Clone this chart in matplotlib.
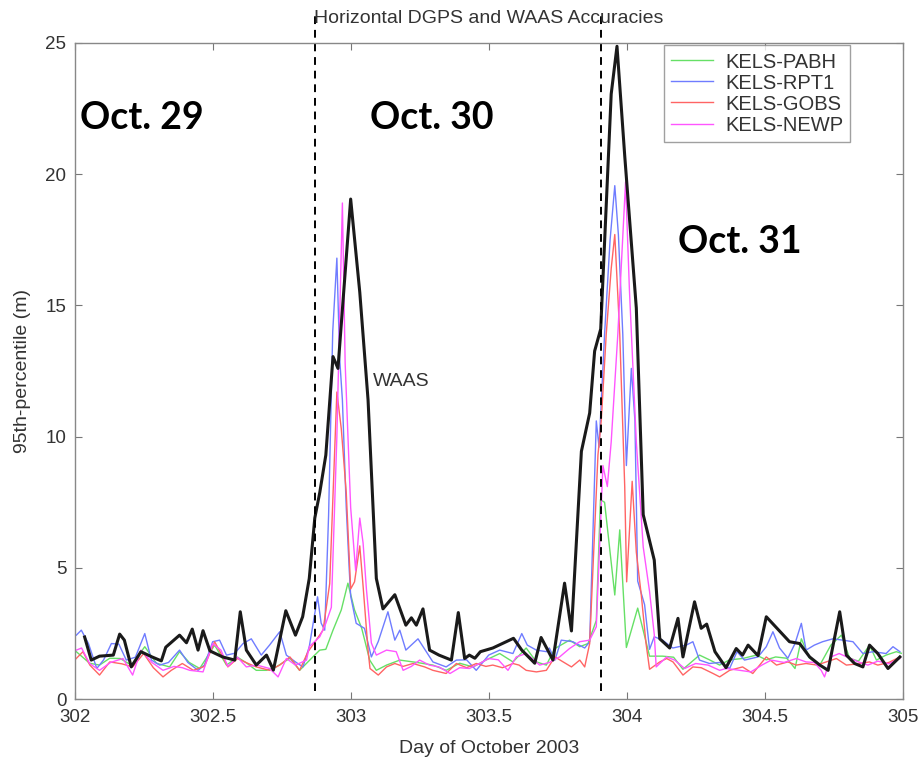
import matplotlib
matplotlib.use("Agg")
import matplotlib.pyplot as plt

# WAAS (black)
waas_x = [302.036, 302.06, 302.09, 302.14, 302.163, 302.18, 302.205, 302.24, 302.278, 302.314,
          302.33, 302.38, 302.405, 302.426, 302.447, 302.465, 302.49, 302.536, 302.58, 302.60,
          302.622, 302.658, 302.695, 302.72, 302.765, 302.80, 302.826, 302.85, 302.87, 302.888,
          302.91, 302.936, 302.954, 303.0, 303.033, 303.063, 303.093, 303.117, 303.16, 303.20,
          303.22, 303.238, 303.262, 303.286, 303.32, 303.365, 303.39, 303.413, 303.43, 303.45,
          303.47, 303.515, 303.59, 303.62, 303.667, 303.69, 303.733, 303.775, 303.80, 303.836,
          303.866, 303.884, 303.906, 303.944, 303.965, 303.993, 304.035, 304.06, 304.10, 304.12,
          304.156, 304.186, 304.204, 304.246, 304.27, 304.29, 304.32, 304.36, 304.397, 304.42,
          304.44, 304.476, 304.506, 304.59, 304.627, 304.663, 304.70, 304.73, 304.772, 304.796,
          304.826, 304.856, 304.88, 304.91, 304.947, 304.99]
waas_y = [2.37, 1.49, 1.64, 1.68, 2.48, 2.25, 1.23, 1.81, 1.62, 1.46,
          1.98, 2.44, 2.15, 2.67, 1.87, 2.61, 1.84, 1.61, 1.49, 3.33,
          1.87, 1.30, 1.68, 1.11, 3.37, 2.44, 3.14, 4.6, 6.9, 7.87,
          9.3, 13.05, 12.6, 19.05, 15.5, 11.4, 4.6, 3.44, 3.98, 2.82,
          3.1, 2.82, 3.44, 1.87, 1.68, 1.49, 3.3, 1.55, 1.68, 1.56,
          1.81, 1.95, 2.32, 1.87, 1.37, 2.35, 1.49, 4.42, 2.6, 9.44,
          10.9, 13.26, 14.1, 23.05, 24.87, 20.7, 14.9, 7.03, 5.3, 2.3,
          1.95, 3.08, 1.61, 3.71, 2.7, 2.86, 1.81, 1.2, 1.93, 1.68,
          2.06, 1.66, 3.14, 2.19, 2.12, 1.61, 1.3, 1.1, 3.33, 1.68,
          1.36, 1.23, 2.06, 1.74, 1.17, 1.61]

# KELS-PABH (green)
pabh_x = [302.006, 302.054, 302.09, 302.127, 302.165, 302.205, 302.254, 302.296, 302.344, 302.38,
          302.415, 302.453, 302.507, 302.55, 302.59, 302.62, 302.658, 302.695, 302.73, 302.78,
          302.815, 302.863, 302.888, 302.91, 302.936, 302.966, 302.99, 303.014, 303.04, 303.069,
          303.093, 303.13, 303.178, 303.24, 303.298, 303.346, 303.395, 303.443, 303.49, 303.54,
          303.588, 303.636, 303.673, 303.709, 303.74, 303.793, 303.83, 303.86, 303.89, 303.905,
          303.92, 303.957, 303.975, 303.999, 304.04, 304.083, 304.13, 304.17, 304.204, 304.264,
          304.3, 304.337, 304.373, 304.42, 304.47, 304.506, 304.54, 304.58, 304.61, 304.633,
          304.663, 304.70, 304.74, 304.778, 304.808, 304.84, 304.88, 304.905, 304.94, 304.977,
          304.995]
pabh_y = [1.81, 1.37, 1.3, 1.56, 1.55, 1.3, 2.0, 1.37, 1.23, 1.81,
          1.4, 1.17, 2.06, 1.3, 1.6, 1.4, 1.1, 1.1, 1.23, 1.56,
          1.1, 1.61, 1.87, 1.9, 2.63, 3.4, 4.42, 3.4, 2.7, 1.49,
          1.1, 1.3, 1.49, 1.4, 1.3, 1.1, 1.37, 1.23, 1.49, 1.74,
          1.42, 1.95, 1.42, 1.3, 1.93, 2.25, 2.0, 2.12, 3.0, 7.6,
          7.5, 3.97, 6.45, 1.97, 3.47, 1.64, 1.64, 1.6, 1.14, 1.68,
          1.5, 1.3, 1.5, 1.55, 1.68, 1.5, 1.61, 1.56, 1.17, 2.3,
          1.56, 1.3, 2.06, 2.44, 1.56, 1.45, 2.06, 1.49, 1.68, 1.81,
          1.75]

# KELS-RPT1 (blue)
rpt1_x = [302.006, 302.024, 302.05, 302.08, 302.105, 302.133, 302.16, 302.187, 302.22, 302.254,
          302.278, 302.308, 302.34, 302.38, 302.41, 302.447, 302.47, 302.50, 302.525, 302.55,
          302.58, 302.61, 302.64, 302.676, 302.706, 302.743, 302.767, 302.80, 302.827, 302.85,
          302.88, 302.893, 302.906, 302.92, 302.935, 302.95, 302.96, 302.97, 302.984, 302.995,
          303.0, 303.02, 303.05, 303.075, 303.1, 303.135, 303.16, 303.178, 303.20, 303.244,
          303.274, 303.298, 303.346, 303.383, 303.42, 303.455, 303.50, 303.54, 303.588, 303.62,
          303.64, 303.673, 303.71, 303.72, 303.74, 303.763, 303.805, 303.848, 303.866, 303.89,
          303.90, 303.92, 303.94, 303.957, 303.97, 303.986, 303.999, 304.017, 304.03, 304.04,
          304.065, 304.083, 304.10, 304.13, 304.167, 304.216, 304.24, 304.264, 304.30, 304.337,
          304.373, 304.40, 304.427, 304.476, 304.506, 304.53, 304.554, 304.584, 304.61, 304.633,
          304.65, 304.68, 304.71, 304.747, 304.783, 304.82, 304.856, 304.893, 304.94, 304.965,
          304.99]
rpt1_y = [2.44, 2.63, 2.12, 1.17, 1.5, 2.12, 2.1, 1.49, 1.6, 2.5,
          1.49, 1.3, 1.4, 1.87, 1.4, 1.1, 1.3, 2.19, 2.25, 1.68,
          1.75, 2.12, 2.3, 1.68, 2.06, 2.57, 1.68, 1.42, 1.23, 2.0,
          3.9, 2.9, 2.63, 7.0, 14.0, 16.8, 13.0, 11.4, 7.3, 4.9,
          3.93, 2.89, 2.7, 1.61, 2.2, 3.33, 2.25, 2.63, 1.87, 2.3,
          1.81, 1.42, 1.23, 1.49, 1.5, 1.1, 1.68, 1.87, 1.74, 2.5,
          2.06, 1.87, 1.81, 1.95, 1.49, 2.25, 2.19, 1.95, 2.19, 10.6,
          9.6, 13.9, 17.5, 19.56, 17.7, 13.9, 8.9, 12.6, 10.6, 4.5,
          3.6, 1.9, 2.38, 2.25, 1.95, 2.06, 2.19, 1.49, 1.36, 1.4,
          1.17, 1.81, 1.49, 1.61, 2.0, 2.57, 1.95, 1.56, 2.12, 2.89,
          1.87, 2.06, 2.19, 2.3, 2.25, 2.19, 1.74, 1.81, 1.74, 2.0,
          1.81]

# KELS-GOBS (red)
gobs_x = [302.0, 302.03, 302.055, 302.09, 302.127, 302.17, 302.21, 302.25, 302.285, 302.32,
          302.35, 302.39, 302.43, 302.47, 302.507, 302.537, 302.555, 302.59, 302.62, 302.658,
          302.706, 302.743, 302.78, 302.815, 302.845, 302.875, 302.9, 302.924, 302.95, 302.966,
          302.984, 303.0, 303.014, 303.033, 303.045, 303.063, 303.07, 303.1, 303.13, 303.16,
          303.19, 303.226, 303.268, 303.298, 303.346, 303.383, 303.42, 303.455, 303.49, 303.515,
          303.55, 303.588, 303.61, 303.636, 303.673, 303.709, 303.74, 303.77, 303.80, 303.83,
          303.848, 303.866, 303.896, 303.908, 303.926, 303.944, 303.957, 303.975, 303.993, 304.0,
          304.02, 304.035, 304.053, 304.07, 304.083, 304.12, 304.145, 304.168, 304.204, 304.24,
          304.27, 304.313, 304.337, 304.373, 304.42, 304.457, 304.506, 304.543, 304.584, 304.615,
          304.65, 304.69, 304.723, 304.76, 304.796, 304.84, 304.88, 304.91, 304.95, 304.99]
gobs_y = [1.49, 1.81, 1.3, 0.92, 1.42, 1.35, 1.23, 1.74, 1.2, 0.85,
          1.1, 1.36, 1.1, 1.25, 2.19, 1.61, 1.23, 1.55, 1.4, 1.23,
          1.1, 1.3, 1.61, 1.1, 1.8, 2.25, 2.63, 4.4, 11.7, 10.3,
          7.87, 4.2, 4.47, 5.84, 4.31, 1.87, 1.17, 0.92, 1.23, 1.36,
          1.25, 1.36, 1.23, 1.1, 0.98, 1.36, 1.2, 1.36, 1.25, 1.3,
          1.2, 1.36, 1.3, 1.1, 1.04, 1.1, 1.61, 1.42, 1.23, 1.49,
          1.23, 2.12, 9.3, 10.6, 13.9, 16.4, 17.7, 13.9, 8.1, 4.47,
          8.3, 5.6, 3.97, 2.14, 1.14, 1.42, 1.55, 1.42, 0.92, 1.23,
          1.2, 0.98, 0.85, 1.1, 1.23, 0.98, 1.61, 1.3, 1.42, 1.3,
          1.36, 1.3, 1.42, 1.55, 1.3, 1.35, 1.42, 1.3, 1.4, 1.61]

# KELS-NEWP (magenta)
newp_x = [302.006, 302.025, 302.054, 302.09, 302.13, 302.175, 302.21, 302.24, 302.28, 302.32,
          302.36, 302.39, 302.417, 302.465, 302.50, 302.53, 302.555, 302.59, 302.622, 302.66,
          302.706, 302.737, 302.767, 302.80, 302.84, 302.85, 302.888, 302.91, 302.93, 302.95,
          302.97, 302.98, 303.0, 303.018, 303.033, 303.045, 303.057, 303.075, 303.093, 303.13,
          303.165, 303.19, 303.22, 303.25, 303.285, 303.32, 303.36, 303.395, 303.43, 303.465,
          303.50, 303.535, 303.57, 303.6, 303.636, 303.685, 303.72, 303.757, 303.793, 303.83,
          303.866, 303.89, 303.914, 303.93, 303.944, 303.968, 303.996, 304.01, 304.035, 304.06,
          304.083, 304.1, 304.107, 304.145, 304.174, 304.21, 304.25, 304.295, 304.337, 304.36,
          304.41, 304.45, 304.49, 304.524, 304.57, 304.615, 304.65, 304.68, 304.705, 304.717,
          304.74, 304.77, 304.80, 304.84, 304.874, 304.91, 304.95, 304.99]
newp_y = [1.87, 1.95, 1.36, 1.1, 1.4, 1.55, 0.92, 1.87, 1.4, 1.1,
          1.25, 1.2, 1.1, 1.04, 2.12, 1.87, 1.25, 1.6, 1.23, 1.3,
          1.17, 0.85, 1.55, 1.3, 1.49, 2.0, 2.38, 2.89, 3.5, 10.0,
          18.9, 12.8, 7.3, 4.9, 6.9, 5.95, 4.2, 2.14, 1.68, 1.87,
          1.81, 1.1, 1.25, 1.49, 1.3, 1.23, 0.98, 1.2, 1.17, 1.35,
          1.55, 1.5, 1.1, 1.61, 1.74, 1.3, 1.4, 1.61, 1.93, 2.19,
          2.25, 2.76, 8.9, 8.1, 9.8, 13.9, 19.7, 15.6, 9.8, 5.8,
          4.1, 2.47, 1.23, 1.61, 1.49, 1.17, 1.36, 1.3, 1.1, 1.17,
          1.1, 1.04, 1.3, 1.49, 1.4, 1.55, 1.42, 1.4, 1.1, 0.85,
          1.61, 1.74, 1.6, 1.42, 1.3, 1.45, 1.35, 1.55]

day_lines = [302.87, 303.906]
day_labels = ["Oct. 29", "Oct. 30", "Oct. 31"]
day_label_pos = [(302.02, 21.7), (303.07, 21.7), (304.185, 17.0)]

plt.rcParams['font.family'] = ['Liberation Sans', 'DejaVu Sans']

fig = plt.figure(figsize=(9.22, 7.65), dpi=100)
ax = fig.add_axes([0.081, 0.086, 0.898, 0.858])

ax.plot(pabh_x, pabh_y, color='#66e066', lw=1.0, label='KELS-PABH')
ax.plot(rpt1_x, rpt1_y, color='#6f7cff', lw=1.0, label='KELS-RPT1')
ax.plot(gobs_x, gobs_y, color='#ff6464', lw=1.0, label='KELS-GOBS')
ax.plot(newp_x, newp_y, color='#ff55ff', lw=1.0, label='KELS-NEWP')
ax.plot(waas_x, waas_y, color='#1a1a1a', lw=2.2)

ax.set_xlim(302, 305)
ax.set_ylim(0, 25)
ax.set_xticks([302, 302.5, 303, 303.5, 304, 304.5, 305])
ax.set_xticklabels(['302', '302.5', '303', '303.5', '304', '304.5', '305'])
ax.set_yticks([0, 5, 10, 15, 20, 25])
ax.tick_params(direction='in', top=True, right=True, length=5, width=0.8,
               colors='#777777', labelcolor='#333333', labelsize=13.5)
ax.tick_params(axis='x', pad=7)
ax.tick_params(axis='y', pad=6)
for s in ax.spines.values():
    s.set_color('#888888')
    s.set_linewidth(1.0)

ax.set_title('Horizontal DGPS and WAAS Accuracies', fontsize=14, color='#333333', pad=14)
ax.set_xlabel('Day of October 2003', fontsize=14, color='#333333', labelpad=10)
ax.set_ylabel('95th-percentile (m)', fontsize=14, color='#333333', labelpad=10)

leg = ax.legend(loc='upper right', bbox_to_anchor=(0.937, 0.996), borderaxespad=0,
                fontsize=14.5, frameon=True, fancybox=False, edgecolor='#888888',
                handlelength=2.1, borderpad=0.35, labelspacing=0.1, handletextpad=0.6)
leg.get_frame().set_linewidth(1.0)
for t in leg.get_texts():
    t.set_color('#333333')

for xd in day_lines:
    ax.plot([xd, xd], [0.3, 26.1], color='black', lw=1.4, ls=(0, (4, 3)), clip_on=False)

for lab, (xp, yp) in zip(day_labels, day_label_pos):
    ax.text(xp, yp, lab, fontsize=27, fontweight='bold', family='Lato', color='black')

ax.text(303.08, 12.1, 'WAAS', fontsize=14, color='#333333', va='center')

fig.savefig('out.png', dpi=100)
